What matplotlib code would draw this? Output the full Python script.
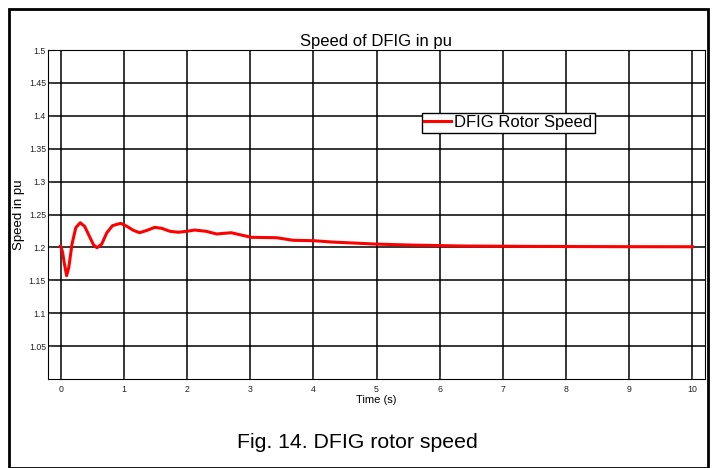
import matplotlib.pyplot as plt
from matplotlib.patches import Rectangle

plt.rcParams['font.family'] = ['Liberation Sans', 'DejaVu Sans']

# rotor speed trace (time in s, speed in pu)
time_s = [0, 0.03, 0.06, 0.095, 0.13, 0.18, 0.24, 0.31, 0.38, 0.45, 0.52, 0.575,
          0.65, 0.73, 0.82, 0.95, 1.05, 1.15, 1.25, 1.37, 1.49, 1.6, 1.73, 1.86,
          2.0, 2.12, 2.3, 2.47, 2.7, 2.85, 3.02, 3.42, 3.68, 4.0, 4.32, 4.63,
          5.0, 5.53, 6.37, 7.5, 8.9, 10]
speed_pu = [1.202, 1.193, 1.175, 1.157, 1.17, 1.205, 1.23, 1.2375, 1.232, 1.218,
            1.204, 1.1995, 1.205, 1.222, 1.233, 1.2366, 1.232, 1.226, 1.2223,
            1.226, 1.2305, 1.229, 1.2245, 1.223, 1.2245, 1.2264, 1.2245, 1.2204,
            1.2223, 1.219, 1.2153, 1.2147, 1.2108, 1.2102, 1.208, 1.2067, 1.205,
            1.2036, 1.2021, 1.2015, 1.2011, 1.201]

x_ticks = list(range(0, 11))
y_ticks = [1.05, 1.1, 1.15, 1.2, 1.25, 1.3, 1.35, 1.4, 1.45, 1.5]
y_tick_labels = ['1.05', '1.1', '1.15', '1.2', '1.25', '1.3', '1.35', '1.4', '1.45', '1.5']

W, H = 714, 468
fig = plt.figure(figsize=(W / 100, H / 100), dpi=100)

# outer frame round the figure
fig.patches.append(Rectangle((9 / W, 0), 699 / W, 1 - 9 / H, transform=fig.transFigure,
                             fill=False, edgecolor='black', linewidth=2))

ax = fig.add_axes([48 / W, 1 - 379 / H, 657 / W, 329 / H])
ax.plot(time_s, speed_pu, color='red', linewidth=2.2, label='DFIG Rotor Speed')

ax.set_xlim(-0.2, 10.2)
ax.set_ylim(1.0, 1.5)
ax.set_xticks(x_ticks)
ax.set_yticks(y_ticks)
ax.set_yticklabels(y_tick_labels)
ax.tick_params(direction='in', labelsize=6.3, length=2, colors='#555555',
               labelcolor='#222222')
ax.tick_params(axis='y', pad=1.5)
ax.tick_params(axis='x', pad=4)
ax.grid(True, color='black', linewidth=1.1)
for sp in ax.spines.values():
    sp.set_linewidth(0.8)

ax.set_title('Speed of DFIG in pu', fontsize=12, pad=3)
ax.set_xlabel('Time (s)', fontsize=8, labelpad=1)
ax.set_ylabel('Speed in pu', fontsize=9.5)
ax.yaxis.set_label_coords((25 - 48) / 657, 0.5)

ax.legend(loc='center', bbox_to_anchor=(508.5 / W, 1 - 122.5 / H),
          bbox_transform=fig.transFigure, fontsize=12, frameon=True, fancybox=False,
          edgecolor='black', framealpha=1, handlelength=1.6, handletextpad=0.2,
          borderpad=0.15, borderaxespad=0)

fig.text(0.5, 1 - 442 / H, 'Fig. 14. DFIG rotor speed', fontsize=15.3,
         ha='center', va='center')

fig.savefig('out.png', dpi=100)
